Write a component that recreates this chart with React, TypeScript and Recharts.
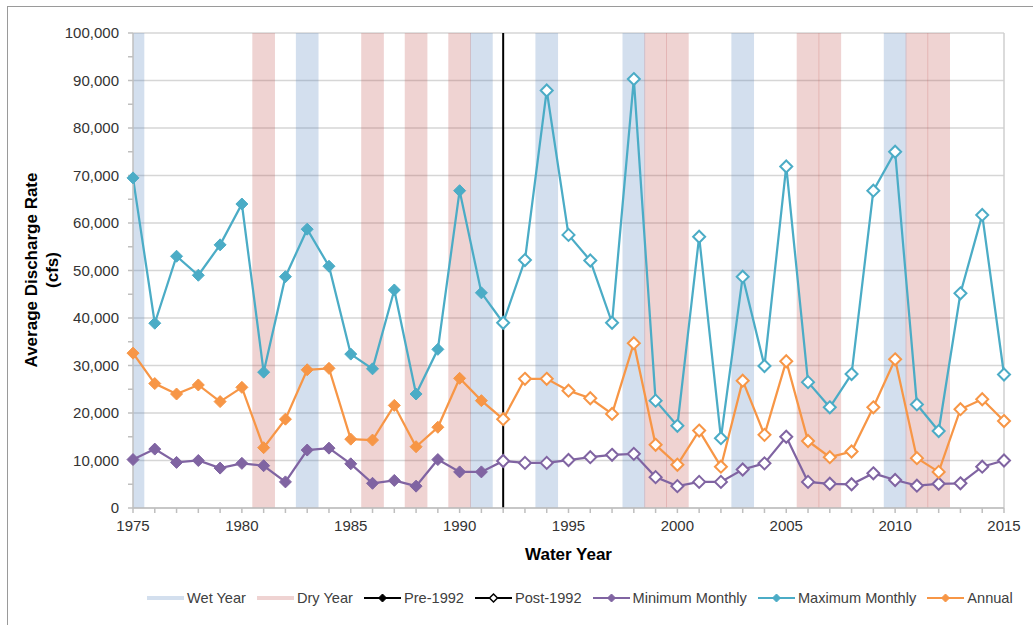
import React from "react";
import {
  LineChart, Line, XAxis, YAxis, CartesianGrid, ReferenceArea, ReferenceLine,
} from "recharts";

const years = [
  1975, 1976, 1977, 1978, 1979, 1980, 1981, 1982, 1983, 1984, 1985, 1986, 1987, 1988,
  1989, 1990, 1991, 1992, 1993, 1994, 1995, 1996, 1997, 1998, 1999, 2000, 2001, 2002,
  2003, 2004, 2005, 2006, 2007, 2008, 2009, 2010, 2011, 2012, 2013, 2014, 2015,
];

const maxMonthly = [
  69500, 38900, 53000, 49000, 55400, 64000, 28600, 48700, 58700, 50900, 32400, 29300, 45900, 24000,
  33400, 66800, 45300, 39000, 52200, 87900, 57500, 52100, 39000, 90300, 22600, 17300, 57100, 14700,
  48700, 29900, 71900, 26500, 21200, 28200, 66800, 75000, 21800, 16200, 45200, 61700, 28100,
];

const annual = [
  32600, 26200, 24000, 25900, 22400, 25400, 12700, 18700, 29100, 29400, 14500, 14300, 21600, 12900,
  17000, 27300, 22600, 18700, 27200, 27200, 24700, 23100, 19800, 34700, 13300, 9100, 16300, 8700,
  26800, 15400, 30900, 14100, 10700, 11900, 21200, 31300, 10500, 7600, 20800, 22900, 18300,
];

const minMonthly = [
  10200, 12400, 9600, 10000, 8400, 9400, 8900, 5500, 12200, 12600, 9300, 5200, 5800, 4600,
  10200, 7600, 7600, 9900, 9500, 9500, 10100, 10700, 11200, 11400, 6500, 4600, 5500, 5500,
  8100, 9400, 15000, 5500, 5100, 5000, 7300, 5900, 4700, 5100, 5200, 8700, 10000,
];

const wetYears = [1975, 1983, 1991, 1994, 1998, 2003, 2010];
const dryYears = [1981, 1986, 1988, 1990, 1999, 2000, 2006, 2007, 2011, 2012];

const splitYear = 1992;
const xTicks = years;
const yTicks = [
  0, 5000, 10000, 15000, 20000, 25000, 30000, 35000, 40000, 45000, 50000,
  55000, 60000, 65000, 70000, 75000, 80000, 85000, 90000, 95000, 100000,
];
const gridValues = [0, 10000, 20000, 30000, 40000, 50000, 60000, 70000, 80000, 90000, 100000];

const data = years.map((year, i) => ({
  year,
  max: maxMonthly[i],
  annual: annual[i],
  min: minMonthly[i],
}));

const COLORS = {
  max: "#4bacc6",
  annual: "#f79646",
  min: "#8064a2",
  wet: "#4f81bd",
  dry: "#c0504d",
};

const FONT = "'Liberation Sans', Arial, sans-serif";

// filled diamond before 1992, hollow after
const makeDot = (color: string) => (props: any) => {
  const { cx, cy, payload, index } = props;
  if (cx == null || cy == null) return <g key={index} />;
  const r = 6;
  const d = `M${cx},${cy - r} L${cx + r},${cy} L${cx},${cy + r} L${cx - r},${cy} Z`;
  const pre = payload.year < splitYear;
  return (
    <path
      key={index}
      d={d}
      fill={pre ? color : "#fff"}
      stroke={color}
      strokeWidth={pre ? 1 : 2}
    />
  );
};

const YTitle = () => (
  <text
    transform="rotate(-90, 37, 270)"
    x={37}
    y={270}
    textAnchor="middle"
    fontFamily={FONT}
    fontWeight="bold"
    fontSize={17}
    fill="#000"
  >
    <tspan x={37} dy={0}>Average Discharge Rate</tspan>
    <tspan x={37} dy={21}>(cfs)</tspan>
  </text>
);

const LegendIcon = ({ kind, color }: { kind: string; color: string }) => (
  <svg width={37} height={12} style={{ display: "block" }}>
    {kind === "band" ? (
      <line x1={0} y1={6} x2={37} y2={6} stroke={color} strokeOpacity={0.25} strokeWidth={4} />
    ) : (
      <>
        <line x1={0} y1={6} x2={37} y2={6} stroke={color} strokeWidth={2} />
        <path
          d="M18.5,2 L22.5,6 L18.5,10 L14.5,6 Z"
          fill={kind === "hollow" ? "#fff" : color}
          stroke={color}
          strokeWidth={kind === "hollow" ? 1.5 : 1}
        />
      </>
    )}
  </svg>
);

const legendItems = [
  { label: "Wet Year", kind: "band", color: COLORS.wet },
  { label: "Dry Year", kind: "band", color: COLORS.dry },
  { label: "Pre-1992", kind: "filled", color: "#000" },
  { label: "Post-1992", kind: "hollow", color: "#000" },
  { label: "Minimum Monthly", kind: "filled", color: COLORS.min },
  { label: "Maximum Monthly", kind: "filled", color: COLORS.max },
  { label: "Annual", kind: "filled", color: COLORS.annual },
];

export default function App() {
  return (
    <div
      style={{
        position: "absolute",
        left: 0,
        top: 0,
        width: 1033,
        height: 625,
        overflow: "hidden",
        background: "#fff",
      }}
    >
      <div
        style={{
          position: "absolute",
          left: 7,
          top: 6,
          width: 1100,
          height: 700,
          border: "1.5px solid #9a9a9a",
        }}
      />
      <div style={{ position: "absolute", left: 0, top: 0 }}>
        <LineChart
          width={1033}
          height={625}
          data={data}
          margin={{ top: 33, right: 29, bottom: 87, left: 73 }}
        >
          {wetYears.map((y) => (
            <ReferenceArea
              key={`wet-${y}`}
              x1={y - 0.52}
              x2={y + 0.52}
              y1={0}
              y2={100000}
              fill={COLORS.wet}
              fillOpacity={0.25}
              stroke="none"
              ifOverflow="hidden"
            />
          ))}
          {dryYears.map((y) => (
            <ReferenceArea
              key={`dry-${y}`}
              x1={y - 0.52}
              x2={y + 0.52}
              y1={0}
              y2={100000}
              fill={COLORS.dry}
              fillOpacity={0.25}
              stroke="none"
              ifOverflow="hidden"
            />
          ))}
          <CartesianGrid
            vertical={false}
            horizontalValues={gridValues}
            stroke="#d6d6d6"
            strokeWidth={1.5}
          />
          <XAxis
            dataKey="year"
            type="number"
            domain={[1975, 2015]}
            ticks={xTicks}
            interval={0}
            tickFormatter={(v: number) => (v % 5 === 0 ? String(v) : "")}
            tick={{ fontFamily: FONT, fontSize: 15, fill: "#333" }}
            tickSize={5}
            tickMargin={7}
            stroke="#bfbfbf"
            strokeWidth={1.5}
            height={30}
            label={{
              value: "Water Year",
              position: "insideBottom",
              offset: -22,
              fontFamily: FONT,
              fontWeight: "bold",
              fontSize: 17,
              fill: "#000",
            }}
          />
          <YAxis
            type="number"
            domain={[0, 100000]}
            ticks={yTicks}
            interval={0}
            tickFormatter={(v: number) => (v % 10000 === 0 ? v.toLocaleString("en-US") : "")}
            tick={{ fontFamily: FONT, fontSize: 15, fill: "#333" }}
            tickSize={5}
            tickMargin={9}
            stroke="#bfbfbf"
            strokeWidth={1.5}
            width={60}
            label={<YTitle />}
          />
          <ReferenceLine x={2015} stroke="#cfcfcf" strokeWidth={1.5} />
          <ReferenceLine x={splitYear} stroke="#000" strokeWidth={2} />
          <Line
            type="linear"
            dataKey="min"
            stroke={COLORS.min}
            strokeWidth={2.25}
            dot={makeDot(COLORS.min)}
            activeDot={false}
            isAnimationActive={false}
          />
          <Line
            type="linear"
            dataKey="annual"
            stroke={COLORS.annual}
            strokeWidth={2.25}
            dot={makeDot(COLORS.annual)}
            activeDot={false}
            isAnimationActive={false}
          />
          <Line
            type="linear"
            dataKey="max"
            stroke={COLORS.max}
            strokeWidth={2.25}
            dot={makeDot(COLORS.max)}
            activeDot={false}
            isAnimationActive={false}
          />
        </LineChart>
      </div>
      <div
        style={{
          position: "absolute",
          left: 147,
          top: 590,
          display: "flex",
          alignItems: "center",
          gap: 11,
          fontFamily: FONT,
          fontSize: 14.6,
          color: "#404040",
          whiteSpace: "nowrap",
        }}
      >
        {legendItems.map((it) => (
          <div key={it.label} style={{ display: "flex", alignItems: "center", gap: 3 }}>
            <LegendIcon kind={it.kind} color={it.color} />
            <span>{it.label}</span>
          </div>
        ))}
      </div>
    </div>
  );
}
